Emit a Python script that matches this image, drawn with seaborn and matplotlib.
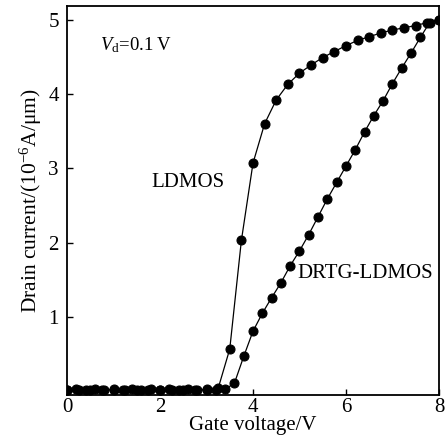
import matplotlib
matplotlib.use("Agg")
import matplotlib.pyplot as plt
import seaborn as sns
import numpy as np
import pandas as pd

# Data
ldmos_x = [0.0, 0.25, 0.5, 0.75, 1.0, 1.25, 1.5, 1.75, 2.0, 2.25, 2.5, 2.75, 3.0,
           3.25, 3.5, 3.75, 4.0, 4.25, 4.5, 4.75, 5.0, 5.25, 5.5, 5.75, 6.0,
           6.25, 6.5, 6.75, 7.0, 7.25, 7.5, 7.75, 8.0]
ldmos_y = [0.02, 0.02, 0.02, 0.02, 0.02, 0.02, 0.02, 0.02, 0.02, 0.02, 0.02, 0.02, 0.02,
           0.04, 0.57, 2.03, 3.07, 3.60, 3.92, 4.13, 4.28, 4.39, 4.49, 4.57, 4.65,
           4.72, 4.77, 4.82, 4.86, 4.89, 4.92, 4.96, 5.00]

drtg_x = [0.0, 0.2, 0.4, 0.6, 0.8, 1.0, 1.2, 1.4, 1.6, 1.8, 2.0, 2.2, 2.4, 2.6, 2.8,
          3.0, 3.2, 3.4, 3.6, 3.8, 4.0, 4.2, 4.4, 4.6, 4.8, 5.0, 5.2, 5.4, 5.6, 5.8,
          6.0, 6.2, 6.4, 6.6, 6.8, 7.0, 7.2, 7.4, 7.6, 7.8, 8.0]
drtg_y = [0.02, 0.03, 0.02, 0.03, 0.02, 0.03, 0.02, 0.03, 0.02, 0.03, 0.02, 0.03, 0.02, 0.03, 0.02,
          0.03, 0.02, 0.03, 0.11, 0.47, 0.81, 1.05, 1.26, 1.46, 1.69, 1.89, 2.11, 2.35, 2.59, 2.81,
          3.03, 3.25, 3.49, 3.71, 3.91, 4.14, 4.35, 4.55, 4.76, 4.96, 5.00]

x_ticks = [0, 2, 4, 6, 8]
y_ticks = [1, 2, 3, 4, 5]

sns.set_theme(style="ticks")
plt.rcParams['font.family'] = ['Liberation Serif', 'DejaVu Serif']
plt.rcParams['mathtext.fontset'] = 'custom'
plt.rcParams['mathtext.rm'] = 'Liberation Serif'
plt.rcParams['mathtext.it'] = 'Liberation Serif:italic'

fig = plt.figure(figsize=(4.47, 4.43), dpi=100)
ax = fig.add_axes([0.150, 0.108, 0.832, 0.878])

df1 = pd.DataFrame({"x": ldmos_x, "y": ldmos_y})
df2 = pd.DataFrame({"x": drtg_x, "y": drtg_y})
sns.lineplot(data=df1, x="x", y="y", ax=ax, color="black", marker="o",
             markersize=6.5, linewidth=0.9, markeredgecolor="black")
sns.lineplot(data=df2, x="x", y="y", ax=ax, color="black", marker="o",
             markersize=6.5, linewidth=0.9, markeredgecolor="black")

ax.set_xlim(0, 8)
ax.set_ylim(-0.05, 5.18)
ax.set_xticks(x_ticks)
ax.set_yticks(y_ticks)
ax.tick_params(direction="in", length=4, width=1, labelsize=15, colors="black")
ax.tick_params(axis="y", pad=6)
ax.tick_params(axis="x", pad=2)
for s in ax.spines.values():
    s.set_linewidth(1.3)
    s.set_color("black")
    s.set_visible(True)

ax.set_xlabel("Gate voltage/V", fontsize=15, color="black", labelpad=-1)
ax.set_ylabel("Drain current/(10$^{-6}$A/\u03bcm)", fontsize=15.5, color="black", labelpad=3)

ax.text(2.6, 2.81, "LDMOS", fontsize=15, ha="center", va="center", color="black")
ax.text(6.41, 1.59, "DRTG-LDMOS", fontsize=15, ha="center", va="center", color="black")
ax.text(0.71, 4.65, "$V$$_{\\rm d}$=0.1\u2009V", fontsize=13.5, ha="left", va="center", color="black")

fig.savefig("out.png", dpi=100)
